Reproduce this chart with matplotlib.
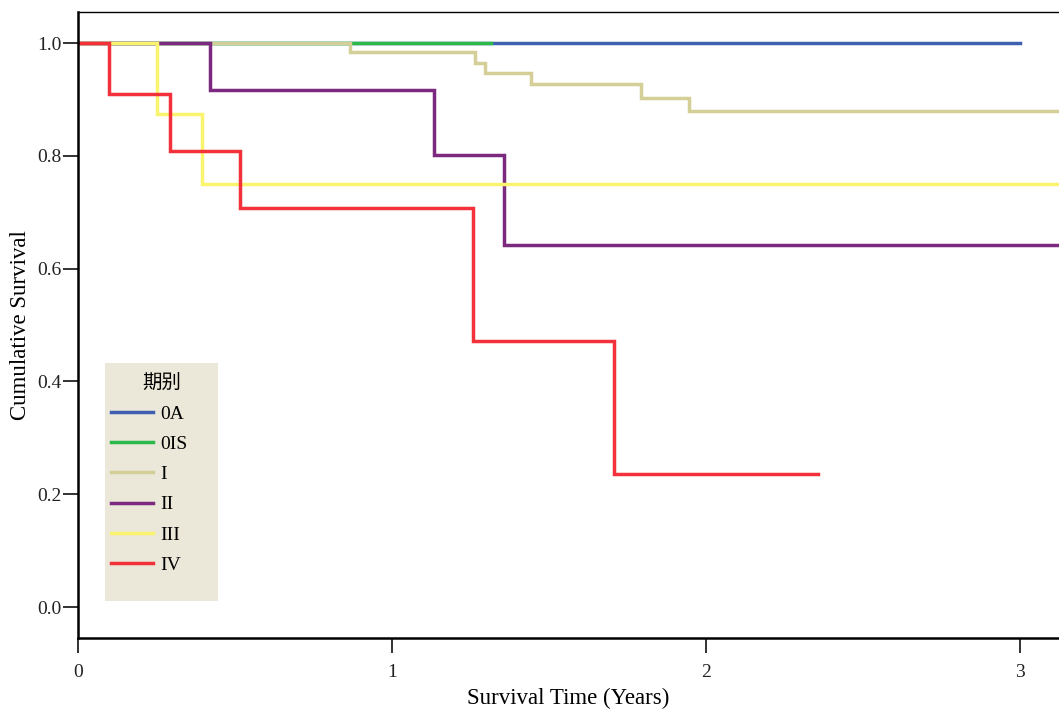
import numpy as np
import matplotlib
matplotlib.use("Agg")
import matplotlib.pyplot as plt
from matplotlib.patches import Rectangle

plt.rcParams['font.family'] = ['Liberation Serif', 'Noto Sans CJK TC', 'DejaVu Sans']

# stages and their step curves (time in years, cumulative survival)
stages = ["0A", "0IS", "I", "II", "III", "IV"]
colors = ["#3f5fb0", "#2db84a", "#d4cf96", "#7b2a7f", "#faf36e", "#f2313a"]

t_0a = [0.0, 3.0]
s_0a = [1.0, 1.0]

t_0is = [0.0, 1.314]
s_0is = [1.0, 1.0]

t_1 = [0.0, 0.867, 1.265, 1.297, 1.442, 1.792, 1.947, 3.2]
s_1 = [1.0, 0.984, 0.965, 0.946, 0.927, 0.903, 0.879, 0.879]

t_2 = [0.0, 0.419, 1.133, 1.357, 3.2]
s_2 = [1.0, 0.917, 0.802, 0.642, 0.642]

t_3 = [0.0, 0.252, 0.395, 3.2]
s_3 = [1.0, 0.875, 0.75, 0.75]

t_4 = [0.0, 0.098, 0.294, 0.515, 1.258, 1.707, 2.357]
s_4 = [1.0, 0.909, 0.808, 0.707, 0.471, 0.236, 0.236]

times = [t_0a, t_0is, t_1, t_2, t_3, t_4]
survs = [s_0a, s_0is, s_1, s_2, s_3, s_4]


def ax_xy(px, py):
    # pixel position in the figure -> axes fraction
    return (px - 78) / 981, (638 - py) / 626


fig = plt.figure(figsize=(10.59, 7.13), dpi=100)
ax = fig.add_axes([78 / 1059, 1 - 638 / 713, 981 / 1059, 626 / 713])

for t, s, c, lab in zip(times, survs, colors, stages):
    ax.step(t, s, where="post", color=c, lw=2.5, label=lab, solid_joinstyle="miter")

ax.set_xlim(0, 981 / 314)
ax.set_ylim(-31 / 564, 1 + 31 / 564)
ax.set_xticks([0, 1, 2, 3])
ax.set_yticks([0.0, 0.2, 0.4, 0.6, 0.8, 1.0])
ax.set_yticklabels(["0.0", "0.2", "0.4", "0.6", "0.8", "1.0"])
ax.tick_params(labelsize=14, length=11, width=1.3, colors="#222222")
ax.tick_params(axis="x", pad=8)
ax.tick_params(axis="y", pad=1)

ax.spines["right"].set_visible(False)
ax.spines["left"].set_linewidth(1.8)
ax.spines["bottom"].set_linewidth(1.8)
ax.spines["top"].set_linewidth(1.0)

ax.set_xlabel("Survival Time (Years)", fontsize=16.5, labelpad=5)
ax.set_ylabel("Cumulative Survival", fontsize=16.5, labelpad=4)

# legend background and title
x0, y0 = ax_xy(105, 601)
x1, y1 = ax_xy(218, 363)
ax.add_patch(Rectangle((x0, y0), x1 - x0, y1 - y0, transform=ax.transAxes,
                       facecolor="#ebe7d9", edgecolor="none", zorder=4))
tx, ty = ax_xy(161.5, 384)
ax.text(tx, ty, "期别", transform=ax.transAxes, ha="center", va="center",
        fontsize=14, zorder=6)

lx, ly = ax_xy(111, 405)
leg = ax.legend(loc="upper left", bbox_to_anchor=(lx, ly), borderaxespad=0,
                borderpad=0, fontsize=14, frameon=False, handlelength=2.16,
                handletextpad=0.36, labelspacing=0.65)
leg.set_zorder(6)

fig.savefig("out.png", dpi=100)
